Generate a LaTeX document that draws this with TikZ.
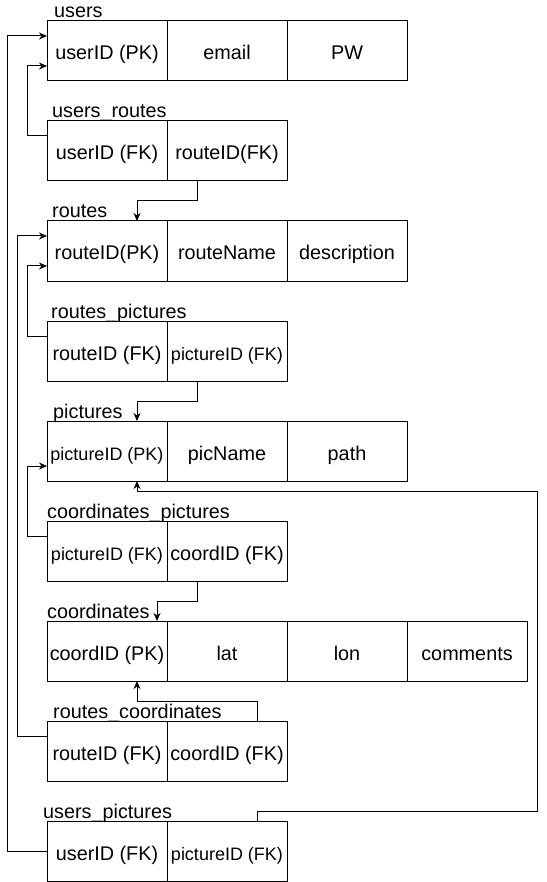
\documentclass[tikz,border=0pt]{standalone}
\usepackage{fontspec}
\setmainfont{Liberation Sans}
\usetikzlibrary{arrows.meta,calc}
\newcommand\fsbig{\fontsize{19.8}{22}\selectfont}
\newcommand\fssmall{\fontsize{18}{20}\selectfont}
\begin{document}
\begin{tikzpicture}[x=1pt,y=-1pt,
  cell/.style={draw, line width=1pt, minimum width=120pt, minimum height=60pt,
    inner sep=0pt, outer sep=0pt, text height=18pt, text depth=0pt,
    font=\fsbig, anchor=north west},
  small/.style={font=\fssmall},
  tname/.style={anchor=base west, inner sep=0pt, font=\fsbig},
  fk/.style={line width=1pt, -{Stealth[length=8pt,width=7pt,inset=2.5pt]}}]
\useasboundingbox (0,0) rectangle (546,882);
\fill[white] (0,0) rectangle (546,882);

% users
\node[cell] (u1) at (47,21) {userID (PK)};
\node[cell] (u2) at (u1.north east) {email};
\node[cell] (u3) at (u2.north east) {PW};
\node[tname] (lu) at (54,18) {users};

% users_routes
\node[cell] (ur1) at (47,121) {userID (FK)};
\node[cell] (ur2) at (ur1.north east) {routeID(FK)};
\node[tname] (lur) at (52,118) {users\_routes};

% routes
\node[cell] (r1) at (47,221) {routeID(PK)};
\node[cell] (r2) at (r1.north east) {routeName};
\node[cell] (r3) at (r2.north east) {description};
\node[tname] (lr) at (52,218) {routes};

% routes_pictures
\node[cell] (rp1) at (47,321) {routeID (FK)};
\node[cell,small] (rp2) at (rp1.north east) {pictureID (FK)};
\node[tname] (lrp) at (51,318) {routes\_pictures};

% pictures
\node[cell,small] (p1) at (47,421) {pictureID (PK)};
\node[cell] (p2) at (p1.north east) {picName};
\node[cell] (p3) at (p2.north east) {path};
\node[tname] (lp) at (53,418) {pictures};

% coordinates_pictures
\node[cell,small] (cp1) at (47,521) {pictureID (FK)};
\node[cell] (cp2) at (cp1.north east) {coordID (FK)};
\node[tname] (lcp) at (47,518) {coordinates\_pictures};

% coordinates
\node[cell] (c1) at (47,621) {coordID (PK)};
\node[cell] (c2) at (c1.north east) {lat};
\node[cell] (c3) at (c2.north east) {lon};
\node[cell] (c4) at (c3.north east) {comments};
\node[tname] (lc) at (47,618) {coordinates};

% routes_coordinates
\node[cell] (rc1) at (47,721) {routeID (FK)};
\node[cell] (rc2) at (rc1.north east) {coordID (FK)};
\node[tname] (lrc) at (53,718) {routes\_coordinates};

% users_pictures
\node[cell] (up1) at (47,821) {userID (FK)};
\node[cell,small] (up2) at (up1.north east) {pictureID (FK)};
\node[tname] (lup) at (43,818) {users\_pictures};

% connectors
\draw[fk] ([yshift=-15pt]ur1.north west) -- ++(-20,0) |- ([yshift=15pt]u1.south west);
\draw[fk] (up1.west) -- ++(-40,0) |- ([yshift=-15pt]u1.north west);
\draw[fk] ([xshift=30pt]ur2.south west) -- ++(0,20) -| ([xshift=-30pt]r1.north east);
\draw[fk] ([yshift=-15pt]rp1.north west) -- ++(-20,0) |- ([yshift=15pt]r1.south west);
\draw[fk] ([yshift=-15pt]rc1.north west) -- ++(-30,0) |- ([yshift=-15pt]r1.north west);
\draw[fk] ([xshift=30pt]rp2.south west) -- ++(0,20) -| ([xshift=-30pt]p1.north east);
\draw[fk] ([yshift=-15pt]cp1.north west) -- ++(-20,0) |- ([yshift=15pt]p1.south west);
\draw[fk] ([xshift=30pt]cp2.south west) -- ++(0,20) -| ([xshift=110pt]c1.north west);
\draw[fk] ([xshift=-30pt]rc2.north east) -- ++(0,-20) -| ([xshift=-30pt]c1.south east);
\coordinate (bendA) at (537,811);
\coordinate (bendB) at (537,491);
\draw[fk] ([xshift=-30pt]up2.north east) |- (bendA) -- (bendB) -| ([xshift=-30pt]p1.south east);
\end{tikzpicture}
\end{document}
